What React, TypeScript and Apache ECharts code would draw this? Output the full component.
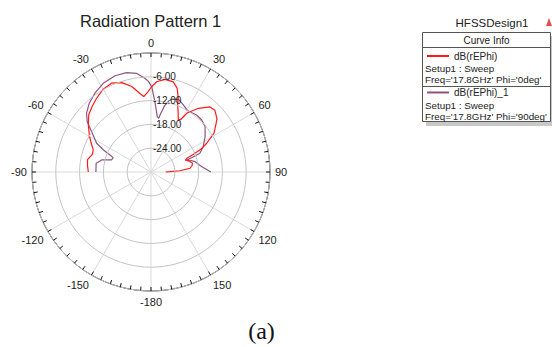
import React, { useEffect, useRef } from "react";
import * as echarts from "echarts";

// Phi = 0deg curve (red): angle in degrees (0 = top, clockwise), value in dB
const redAngles = [-90, -84, -79, -73, -69, -64, -60, -53, -47.5, -42, -36.4, -30, -24, -18, -12.7, -8, -5.5, -2, 0, 3.6, 8.6, 13.9, 17.4, 18.7, 20.3, 21.7, 24.5, 27.5, 29.5, 31.5, 33, 36.6, 42, 46, 51, 54, 58.5, 62.7, 65.5, 67.5, 69, 71, 74, 78, 81, 84.5, 87.5, 89, 90];
const redValues = [-14.2, -13.9, -13.7, -14.6, -14.4, -13.2, -12.1, -10.2, -8.7, -7.8, -6.9, -5.9, -5.5, -6.3, -7.9, -10.0, -10.9, -9.7, -8.7, -7.2, -6.4, -6.6, -7.9, -9.0, -10.2, -11.8, -13.5, -15.1, -14.8, -12.5, -11.9, -10.0, -7.9, -7.6, -8.6, -9.8, -11.4, -14.2, -16.2, -18.5, -20.3, -20.8, -20.0, -19.3, -19.5, -20.1, -22.7, -25.2, -26.3];

// Phi = 90deg curve (purple)
const purpleAngles = [-90, -81, -76.3, -73, -69.2, -67.5, -65.2, -62.1, -55.8, -51.7, -47.6, -41.9, -35.4, -28.3, -20.5, -13.8, -8.2, -3.7, -1.5, 0.5, 1.7, 3, 5, 6.5, 8.2, 9.5, 11.5, 14, 16, 20.8, 25.7, 31, 38.7, 44.3, 50, 56.8, 64.2, 69.1, 70.5, 71.4, 74, 76.8, 84, 90];
const purpleValues = [-16.1, -16.0, -17.2, -19.6, -19.8, -18.8, -16.8, -14.5, -11.9, -9.5, -8.0, -6.7, -5.6, -4.6, -4.1, -4.2, -4.9, -6.3, -7.2, -8.5, -10.4, -12.0, -14.5, -16.0, -16.3, -15.0, -13.0, -11.5, -10.9, -10.4, -11.2, -12.0, -11.6, -11.7, -12.2, -13.7, -15.4, -16.8, -19.0, -20.5, -19.5, -18.6, -17.1, -14.9];

const radiusMin = -30;
const radiusMax = 0;
const radiusStep = 6;
const angleStep = 30;
const angleTickStep = 5;

const seriesNames = ["dB(rEPhi)", "dB(rEPhi)_1"];
const setupText = "Setup1 : Sweep";
const freqTexts = ["Freq='17.8GHz' Phi='0deg'", "Freq='17.8GHz' Phi='90deg'"];

const toData = (angles: number[], vals: number[]) =>
  angles.map((a, i) => [vals[i], a < 0 ? a + 360 : a]);

// angular tick positions of the outer scale (every 5 degrees)
const tickAngles: number[] = [];
for (let a = 0; a < 360; a += angleTickStep) tickAngles.push(a);

const FONT = "'Liberation Sans', Arial, sans-serif";
const CENTER = [151, 172];
const RADIUS = 119;
const TICK_LEN = 4;

export default function App() {
  const ref = useRef<HTMLDivElement>(null);
  useEffect(() => {
    if (!ref.current) return;
    const chart = echarts.init(ref.current, undefined, { renderer: "svg" });
    chart.setOption({
      animation: false,
      backgroundColor: "#ffffff",
      title: {
        text: "Radiation Pattern 1",
        left: 80,
        top: 12,
        padding: 0,
        textStyle: { fontSize: 16.5, fontWeight: "normal", fontFamily: FONT, color: "#222" },
      },
      polar: { center: CENTER, radius: RADIUS },
      angleAxis: {
        type: "value",
        min: 0,
        max: 360,
        interval: angleStep,
        startAngle: 90,
        clockwise: true,
        axisLine: { show: true, lineStyle: { color: "#111", width: 1 } },
        axisTick: { show: false },
        axisLabel: {
          margin: 5,
          fontSize: 11,
          fontFamily: FONT,
          color: "#222",
          formatter: (v: number) =>
            v === 360 ? "" : v === 180 ? "-180" : v > 180 ? String(v - 360) : String(v),
        },
        splitLine: { show: true, lineStyle: { color: "#dadada", width: 1 } },
      },
      radiusAxis: {
        type: "value",
        min: radiusMin,
        max: radiusMax,
        interval: radiusStep,
        axisLine: { show: false },
        axisTick: { show: false },
        axisLabel: {
          margin: -2,
          align: "left",
          fontSize: 10,
          fontFamily: FONT,
          color: "#222",
          formatter: (v: number) => (v === radiusMin || v === radiusMax ? "" : v.toFixed(2)),
        },
        splitLine: { show: true, lineStyle: { color: "#c4c4c4", width: 1 } },
        z: 5,
      },
      legend: [
        {
          data: [seriesNames[0]],
          left: 427,
          top: 51,
          padding: 0,
          icon: "rect",
          itemWidth: 22,
          itemHeight: 2,
          textStyle: { fontSize: 10, fontFamily: FONT, color: "#222" },
        },
        {
          data: [seriesNames[1]],
          left: 427,
          top: 87.5,
          padding: 0,
          icon: "rect",
          itemWidth: 22,
          itemHeight: 2,
          textStyle: { fontSize: 10, fontFamily: FONT, color: "#222" },
        },
      ],
      graphic: [
        { type: "rect", shape: { x: 426, y: 36, width: 128, height: 90 }, style: { fill: "#c8c8c8" }, z: 0 },
        { type: "rect", shape: { x: 422.5, y: 32.5, width: 128, height: 89 }, style: { fill: "#fff", stroke: "#555", lineWidth: 1 }, z: 1 },
        { type: "line", shape: { x1: 422.5, y1: 47.5, x2: 550.5, y2: 47.5 }, style: { stroke: "#555", lineWidth: 1 }, z: 2 },
        { type: "line", shape: { x1: 422.5, y1: 86.5, x2: 550.5, y2: 86.5 }, style: { stroke: "#555", lineWidth: 1 }, z: 2 },
        { type: "text", x: 492, y: 23, style: { text: "HFSSDesign1", fontSize: 11.5, fontFamily: FONT, fill: "#222", align: "center", verticalAlign: "middle" }, z: 2 },
        { type: "polygon", shape: { points: [[546, 26], [549, 18], [552, 26]] }, style: { fill: "#e05050" }, z: 2 },
        { type: "text", x: 486.5, y: 40, style: { text: "Curve Info", fontSize: 10, fontFamily: FONT, fill: "#222", align: "center", verticalAlign: "middle" }, z: 2 },
        { type: "text", x: 425, y: 68.3, style: { text: setupText, fontSize: 9.8, fontFamily: FONT, fill: "#222", align: "left", verticalAlign: "middle" }, z: 2 },
        { type: "text", x: 425, y: 79.3, style: { text: freqTexts[0], fontSize: 9.8, fontFamily: FONT, fill: "#222", align: "left", verticalAlign: "middle" }, z: 2 },
        { type: "text", x: 425, y: 105, style: { text: setupText, fontSize: 9.8, fontFamily: FONT, fill: "#222", align: "left", verticalAlign: "middle" }, z: 2 },
        { type: "text", x: 425, y: 116, style: { text: freqTexts[1], fontSize: 9.8, fontFamily: FONT, fill: "#222", align: "left", verticalAlign: "middle" }, z: 2 },
        { type: "text", x: 261.5, y: 331, style: { text: "(a)", fontSize: 24, fontFamily: "'Liberation Serif', 'Times New Roman', serif", fill: "#111", align: "center", verticalAlign: "middle" }, z: 2 },
      ],
      series: [
        {
          name: "angleTicks",
          type: "custom",
          coordinateSystem: "polar",
          silent: true,
          z: 6,
          data: tickAngles.map((a) => [radiusMax, a]),
          renderItem: (params: any, api: any) => {
            const outer = api.coord([api.value(0), api.value(1)]);
            const center = api.coord([radiusMin, api.value(1)]);
            const dx = center[0] - outer[0];
            const dy = center[1] - outer[1];
            const len = Math.sqrt(dx * dx + dy * dy) || 1;
            return {
              type: "line",
              shape: {
                x1: outer[0],
                y1: outer[1],
                x2: outer[0] + (dx / len) * TICK_LEN,
                y2: outer[1] + (dy / len) * TICK_LEN,
              },
              style: { stroke: "#111", lineWidth: 1 },
            };
          },
        },
        {
          name: seriesNames[0],
          type: "line",
          coordinateSystem: "polar",
          showSymbol: false,
          symbol: "none",
          data: toData(redAngles, redValues),
          itemStyle: { color: "#ff1a1a" },
          lineStyle: { color: "#ff1a1a", width: 1.2 },
          z: 3,
        },
        {
          name: seriesNames[1],
          type: "line",
          coordinateSystem: "polar",
          showSymbol: false,
          symbol: "none",
          data: toData(purpleAngles, purpleValues),
          itemStyle: { color: "#8c5582" },
          lineStyle: { color: "#8c5582", width: 1.2 },
          z: 2,
        },
      ],
    });
    return () => chart.dispose();
  }, []);
  return (
    <div
      ref={ref}
      style={{ position: "absolute", left: 0, top: 0, width: 552, height: 347, background: "#fff" }}
    />
  );
}
